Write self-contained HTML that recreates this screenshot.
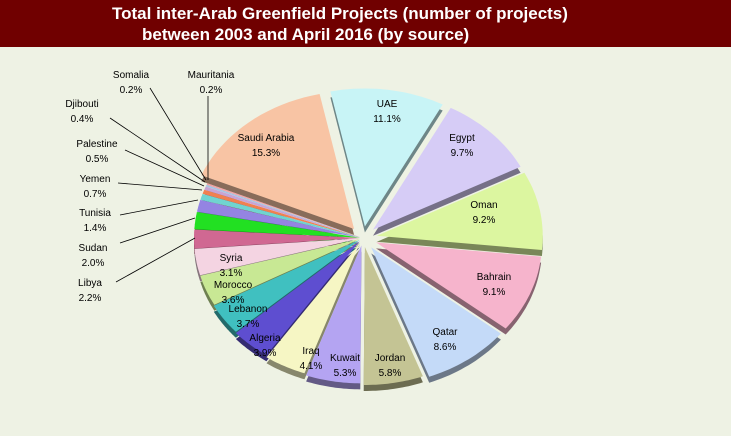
<!DOCTYPE html>
<html><head><meta charset="utf-8"><style>
body{margin:0;width:731px;height:436px;overflow:hidden;background:#eef2e4;font-family:"Liberation Sans",sans-serif}
#hd{position:absolute;left:0;top:0;width:731px;height:47px;background:#700000;color:#fff;font-weight:bold;font-size:17px;line-height:20px}
</style></head><body>
<div id="hd"><div style="position:absolute;left:112px;top:4px">Total inter-Arab Greenfield Projects (number of projects)</div>
<div style="position:absolute;left:142px;top:25px">between 2003 and April 2016 (by source)</div></div>
<svg id="s" width="731" height="436" style="position:absolute;left:0;top:0" font-family="Liberation Sans, sans-serif" font-size="10" fill="#000"></svg>
<script>
(function(){
var d=[["UAE",11.1,"#c8f4f6",14],["Egypt",9.7,"#d6ccf6",14],["Oman",9.2,"#dcf6a0",14],["Bahrain",9.1,"#f6b4cc",14],["Qatar",8.6,"#c4daf8",14],["Jordan",5.8,"#c4c494",11],["Kuwait",5.3,"#b4a4f2",9],["Iraq",4.1,"#f6f6c4",7],["Algeria",3.9,"#5e4ed0",5],["Lebanon",3.7,"#40c0c0",4],["Morocco",3.6,"#c8e894",3],["Syria",3.1,"#f4d4e2",3],["Libya",2.2,"#d06892",3],["Sudan",2.0,"#22e022",3],["Tunisia",1.4,"#9484e2",3],["Yemen",0.7,"#70d4d0",3],["Palestine",0.5,"#f08050",3],["Djibouti",0.4,"#c8a4d4",3],["Somalia",0.2,"#a4c4e4",3],["Mauritania",0.2,"#f0a4a4",3],["Saudi Arabia",15.3,"#f8c4a4",14]];
var cx=363,cy=238,rx=166,ry=138,dep=6,tot=100.1,a=0,off=-12*Math.PI/180,sh='',fr='';
function dk(c,f){var n=parseInt(c.slice(1),16);return'rgb('+[Math.round((n>>16)*f),Math.round(((n>>8)&255)*f),Math.round((n&255)*f)].join(',')+')'}
d.forEach(function(s){var a0=off+a/tot*2*Math.PI,a1=off+(a+s[1])/tot*2*Math.PI;a+=s[1];var m=(a0+a1)/2;
var ox=cx+s[3]*Math.sin(m),oy=cy-s[3]*Math.cos(m)*ry/rx;var p='M'+ox.toFixed(1)+','+oy.toFixed(1);
for(var i=0;i<=20;i++){var t=a0+(a1-a0)*i/20;p+='L'+(ox+rx*Math.sin(t)).toFixed(1)+','+(oy-ry*Math.cos(t)).toFixed(1)}p+='Z';
sh+='<path d="'+p+'" transform="translate(0,'+dep+')" fill="'+dk(s[2],0.55)+'"/>';
fr+='<path d="'+p+'" fill="'+s[2]+'"/>';});
var L=[["UAE",387,103,"11.1%"],["Egypt",462,137,"9.7%"],["Oman",484,204,"9.2%"],["Bahrain",494,276,"9.1%"],["Qatar",445,331,"8.6%"],["Jordan",390,357,"5.8%"],["Kuwait",345,357,"5.3%"],["Iraq",311,350,"4.1%"],["Algeria",265,337,"3.9%"],["Lebanon",248,308,"3.7%"],["Morocco",233,284,"3.6%"],["Syria",231,257,"3.1%"],["Saudi Arabia",266,137,"15.3%"],["Somalia",131,74,"0.2%"],["Mauritania",211,74,"0.2%"],["Djibouti",82,103,"0.4%"],["Palestine",97,143,"0.5%"],["Yemen",95,178,"0.7%"],["Tunisia",95,212,"1.4%"],["Sudan",93,247,"2.0%"],["Libya",90,282,"2.2%"]];
var t='';L.forEach(function(l){t+='<text x="'+l[1]+'" y="'+(l[2]+4)+'" text-anchor="middle">'+l[0]+'</text><text x="'+l[1]+'" y="'+(l[2]+19)+'" text-anchor="middle">'+l[3]+'</text>'});
var ln=[[208,96,208,180],[150,88,206,180],[110,118,205,182],[125,150,204,186],[118,183,202,190],[120,215,198,200],[120,243,195,218],[116,282,195,238]];
ln.forEach(function(q){t+='<line x1="'+q[0]+'" y1="'+q[1]+'" x2="'+q[2]+'" y2="'+q[3]+'" stroke="#000" stroke-width="0.8"/>'});
document.getElementById('s').innerHTML=sh+fr+t;
})();
</script>
</body></html>
